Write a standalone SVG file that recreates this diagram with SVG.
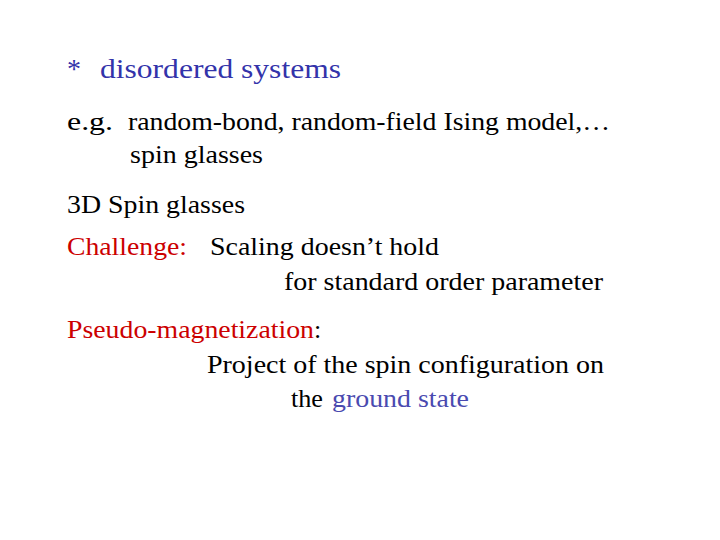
<svg xmlns="http://www.w3.org/2000/svg" width="720" height="540" viewBox="0 0 720 540">
<style>
text{font-family:"Liberation Serif","Times New Roman",serif;font-size:26px;fill:#000}
.b{fill:#3333aa}
.r{fill:#cc0000}
.g{fill:#4a4ab0}
</style>
<rect width="720" height="540" fill="#fff"/>
<text x="67" y="78" class="b" style="font-size:28px">*</text>
<text x="100" y="78" class="b" style="font-size:28px" textLength="241" lengthAdjust="spacingAndGlyphs">disordered systems</text>
<text x="67" y="130" textLength="46" lengthAdjust="spacingAndGlyphs">e.g.</text>
<text x="128" y="130" textLength="482" lengthAdjust="spacingAndGlyphs">random-bond, random-field Ising model,…</text>
<text x="130" y="163" textLength="133" lengthAdjust="spacingAndGlyphs">spin glasses</text>
<text x="67" y="213" textLength="178" lengthAdjust="spacingAndGlyphs">3D Spin glasses</text>
<text x="67" y="255" class="r" textLength="120" lengthAdjust="spacingAndGlyphs">Challenge:</text>
<text x="210" y="255" textLength="229" lengthAdjust="spacingAndGlyphs">Scaling doesn’t hold</text>
<text x="284" y="290" textLength="319" lengthAdjust="spacingAndGlyphs">for standard order parameter</text>
<text x="67" y="338" class="r" textLength="247" lengthAdjust="spacingAndGlyphs">Pseudo-magnetization</text>
<text x="314" y="338">:</text>
<text x="207" y="373" textLength="397" lengthAdjust="spacingAndGlyphs">Project of the spin configuration on</text>
<text x="291" y="407" textLength="32" lengthAdjust="spacingAndGlyphs">the</text>
<text x="332" y="407" class="g" textLength="137" lengthAdjust="spacingAndGlyphs">ground state</text>
</svg>
